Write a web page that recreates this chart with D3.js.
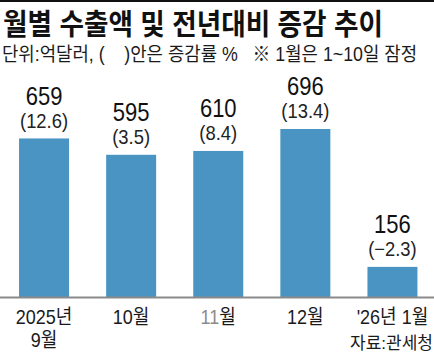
<!DOCTYPE html>
<html>
<head>
<meta charset="utf-8">
<script src="https://cdn.jsdelivr.net/npm/d3@7"></script>
<style>
  body { margin: 0; background: #fff; }
  svg { display: block; }
</style>
</head>
<body>
<div id="chart"></div>
<script>
// 월별 수출액 (억달러) 및 전년대비 증감률 (%)
var months = ["2025년|9월", "10월", "11월", "12월", "'26년 1월"]
var exports = [659, 595, 610, 696, 156]
var changes = ["(12.6)", "(3.5)", "(8.4)", "(13.4)", "(\u22122.3)"]

var width = 434, height = 355
var font = "'Liberation Sans', 'Noto Sans CJK KR', sans-serif"

var svg = d3.select("#chart").append("svg")
    .attr("width", width)
    .attr("height", height)

// top rule
svg.append("rect")
    .attr("x", 0).attr("y", 0)
    .attr("width", width).attr("height", 2)
    .attr("fill", "#111")

svg.append("text")
    .attr("x", 3).attr("y", 35)
    .attr("font-family", font)
    .attr("font-weight", "bold")
    .attr("font-size", 29)
    .attr("textLength", 380)
    .attr("lengthAdjust", "spacingAndGlyphs")
    .attr("fill", "#111")
    .text("월별 수출액 및 전년대비 증감 추이")

// subtitle, stretched a little taller like the condensed original
svg.append("text")
    .attr("x", 2).attr("y", 0)
    .attr("font-family", font)
    .attr("font-size", 18)
    .attr("textLength", 415)
    .attr("lengthAdjust", "spacingAndGlyphs")
    .attr("fill", "#1a1a1a")
    .attr("xml:space", "preserve")
    .attr("transform", "translate(0,61) scale(1,1.08)")
    .text("단위:억달러, (    )안은 증감률 %   ※ 1월은 1~10일 잠정")

var baseline = 297

var x = d3.scaleBand()
    .domain(months)
    .range([0.5, 436])
    .paddingInner(0.426)
    .paddingOuter(0.213)

var y = d3.scaleLinear()
    .domain([38, 696])
    .range([baseline, 129])

svg.selectAll(".bar")
    .data(exports)
    .join("rect")
      .attr("class", "bar")
      .attr("x", (d, i) => x(months[i]))
      .attr("y", d => y(d))
      .attr("width", x.bandwidth())
      .attr("height", d => baseline - y(d))
      .attr("fill", "#4a94c4")

// axis line
svg.append("rect")
    .attr("x", 0).attr("y", baseline - 0.5)
    .attr("width", width).attr("height", 2)
    .attr("fill", "#8a8a8a")

svg.selectAll(".val")
    .data(exports)
    .join("text")
      .attr("class", "val")
      .attr("x", (d, i) => x(months[i]) + x.bandwidth() / 2)
      .attr("y", d => y(d) - 33.5)
      .attr("text-anchor", "middle")
      .attr("font-family", font)
      .attr("font-size", 25)
      .attr("font-weight", 500)
      .attr("fill", "#111")
      .attr("transform", (d, i) => {
        var cx = x(months[i]) + x.bandwidth() / 2
        return "translate(" + cx + ",0) scale(0.88,1) translate(" + (-cx) + ",0)"
      })
      .text(d => d)

svg.selectAll(".chg")
    .data(changes)
    .join("text")
      .attr("class", "chg")
      .attr("x", (d, i) => x(months[i]) + x.bandwidth() / 2)
      .attr("y", (d, i) => y(exports[i]) - 10.5)
      .attr("text-anchor", "middle")
      .attr("font-family", font)
      .attr("font-size", 20)
      .attr("fill", "#222")
      .attr("transform", (d, i) => {
        var cx = x(months[i]) + x.bandwidth() / 2
        return "translate(" + cx + ",0) scale(0.92,1) translate(" + (-cx) + ",0)"
      })
      .text(d => d)

// category labels
var cat = svg.selectAll(".cat")
    .data(months)
    .join("text")
      .attr("class", "cat")
      .attr("text-anchor", "middle")
      .attr("font-family", font)
      .attr("font-size", 20)
      .attr("fill", "#1a1a1a")

cat.each(function(d) {
  var t = d3.select(this)
  var cx = x(d) + x.bandwidth() / 2
  t.attr("transform", "translate(" + cx + ",0) scale(0.9,1) translate(" + (-cx) + ",0)")
  d.split("|").forEach((line, j) => {
    var ts = t.append("tspan")
        .attr("x", cx)
        .attr("y", 324 + j * 23)
    if (line == "11월") {
      ts.append("tspan").attr("fill", "#8c8c8c").text("11")
      ts.append("tspan").text("월")
    } else {
      ts.text(line)
    }
  })
})

svg.append("text")
    .attr("x", 433).attr("y", 349)
    .attr("text-anchor", "end")
    .attr("font-family", font)
    .attr("font-size", 17)
    .attr("fill", "#1a1a1a")
    .text("자료:관세청")
</script>
</body>
</html>
